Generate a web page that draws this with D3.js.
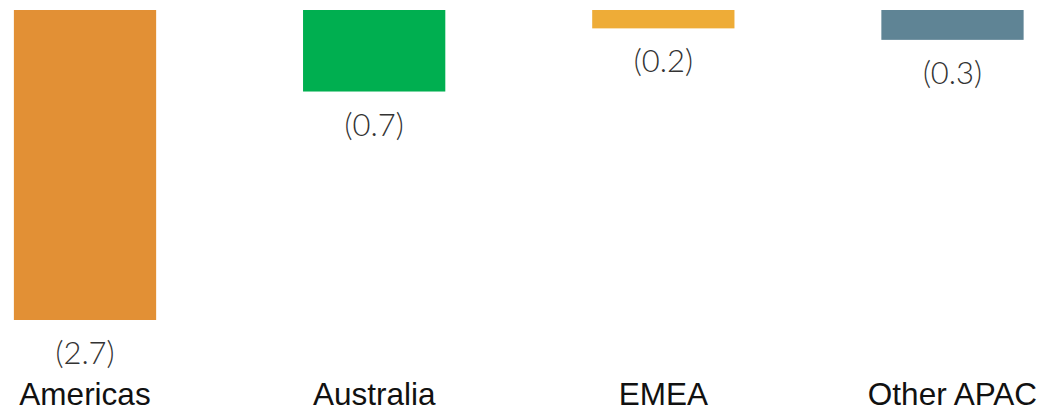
<!DOCTYPE html>
<html><head><meta charset="utf-8">
<script src="https://cdn.jsdelivr.net/npm/d3@7"></script>
<style>body{margin:0;background:#fff}svg{display:block}</style>
</head><body><svg id="c" width="1043" height="411"></svg>
<script>
const categories = ["Americas", "Australia", "EMEA", "Other APAC"];
const values = [-2.7, -0.71, -0.16, -0.26];
const colors = ["#E29035", "#00AF50", "#EEAC37", "#5F8495"];

const svg = d3.select("#c");
const x = d3.scaleBand().domain(categories).range([0, 1037.5]).paddingInner(0.508).paddingOuter(0.048);
const y = d3.scaleLinear().domain([0, -2.7]).range([10, 320]);
const fmt = v => "(" + d3.format(".1f")(Math.abs(v)) + ")";

svg.selectAll("rect.bar").data(categories).join("rect").attr("class","bar")
  .attr("x", d => x(d)).attr("width", x.bandwidth())
  .attr("y", (d,i) => y(0)).attr("height", (d,i) => y(values[i]) - y(0))
  .attr("fill", (d,i) => colors[i]);

svg.selectAll("text.val").data(categories).join("text").attr("class","val")
  .attr("x", d => x(d) + x.bandwidth()/2).attr("y", (d,i) => y(values[i]) + 44)
  .attr("text-anchor","middle").attr("font-family","Lato, sans-serif").attr("font-weight", 300)
  .attr("font-size", 31).attr("fill","#333").text((d,i) => fmt(values[i]));

svg.selectAll("text.cat").data(categories).join("text").attr("class","cat")
  .attr("x", d => x(d) + x.bandwidth()/2).attr("y", 405)
  .attr("text-anchor","middle").attr("font-family","'Liberation Sans', Arial, sans-serif")
  .attr("font-size", 31.5).attr("fill","#111").text(d => d);
</script></body></html>
